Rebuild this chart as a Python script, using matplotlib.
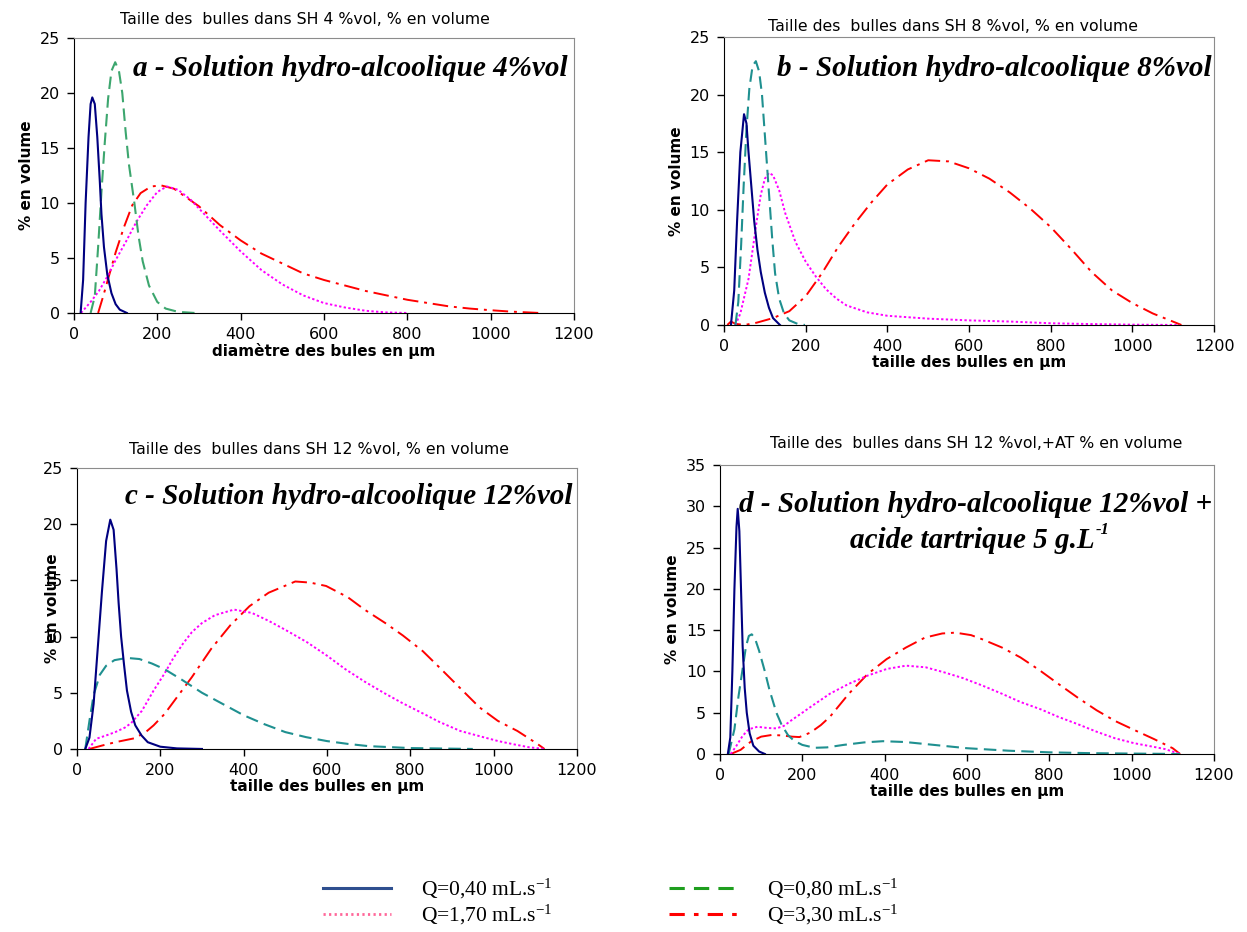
import matplotlib
matplotlib.use("Agg")
import matplotlib.pyplot as plt
from matplotlib.lines import Line2D

plt.rcParams['font.family'] = ['DejaVu Sans']
plt.rcParams['mathtext.fontset'] = 'custom'
plt.rcParams['mathtext.rm'] = 'Liberation Serif'
plt.rcParams['mathtext.it'] = 'Liberation Serif:italic'
plt.rcParams['mathtext.bf'] = 'Liberation Serif:bold'

# ---- data (x in µm, y in % volume) ----
# a - 4 %vol
a_x040 = [16, 22, 28, 35, 40, 44, 50, 56, 62, 66, 72, 80, 90, 100, 110, 127]
a_y040 = [0, 3, 10, 16, 19, 19.6, 19, 16, 12, 9, 6, 3.5, 1.8, 0.8, 0.3, 0]
a_x080 = [40, 50, 58, 66, 74, 82, 90, 99, 108, 116, 124, 132, 145, 155, 165, 180, 200, 220, 250, 290]
a_y080 = [0, 1.5, 6, 11, 15.5, 19.5, 22, 22.8, 22, 20, 16.5, 13.5, 10, 7, 4.7, 2.5, 1, 0.4, 0.1, 0]
a_x170 = [17, 40, 60, 80, 100, 125, 150, 175, 200, 223, 250, 280, 300, 350, 400, 450, 500, 550, 600, 650, 700, 750, 800]
a_y170 = [0, 1, 2, 3.3, 4.8, 6.5, 8.3, 9.8, 11, 11.5, 11.2, 10.3, 9.5, 7.5, 5.6, 3.9, 2.6, 1.6, 0.9, 0.5, 0.2, 0.05, 0]
a_x330 = [58, 70, 85, 100, 120, 140, 160, 185, 209, 240, 270, 300, 350, 400, 450, 500, 550, 600, 650, 700, 750,
          800, 850, 900, 950, 1000, 1050, 1118]
a_y330 = [0, 1.5, 3.5, 5.5, 7.8, 9.8, 10.9, 11.5, 11.6, 11.3, 10.5, 9.7, 8, 6.6, 5.4, 4.5, 3.6, 3, 2.5, 2, 1.6,
          1.2, 0.9, 0.6, 0.4, 0.25, 0.12, 0]

# b - 8 %vol
b_x040 = [17, 25, 32, 40, 49, 55, 60, 67, 74, 82, 90, 100, 110, 120, 137]
b_y040 = [0, 3, 9, 15, 18.3, 17.5, 15, 12, 9, 6.5, 4.6, 2.8, 1.5, 0.6, 0]
b_x080 = [28, 35, 42, 48, 55, 62, 70, 78, 86, 93, 100, 107, 113, 118, 125, 135, 147, 160, 180, 198]
b_y080 = [0, 2, 7, 12, 17, 20.5, 22.5, 22.9, 22, 20, 16.5, 13, 10, 7.5, 4.5, 2.3, 1, 0.4, 0.1, 0]
b_x170 = [28, 40, 50, 60, 70, 80, 90, 100, 110, 120, 135, 150, 175, 200, 225, 250, 275, 300, 350, 400, 500,
          600, 700, 800, 900, 1000, 1115]
b_y170 = [0, 1, 2.5, 4, 6.5, 9, 11.3, 12.7, 13.2, 13, 11.7, 9.7, 7.2, 5.5, 4.2, 3.1, 2.3, 1.7, 1.1, 0.8, 0.55,
          0.4, 0.3, 0.15, 0.08, 0.03, 0]
b_x330 = [8, 17, 28, 50, 80, 120, 160, 200, 240, 280, 320, 360, 400, 450, 500, 550, 600, 650, 700, 750, 800,
          850, 900, 950, 1000, 1050, 1120]
b_y330 = [0, 0.3, 0.1, 0, 0.2, 0.6, 1.2, 2.5, 4.5, 6.8, 8.8, 10.6, 12.2, 13.5, 14.3, 14.2, 13.6, 12.7, 11.5,
          10.1, 8.5, 6.6, 4.6, 3, 1.9, 1, 0]

# c - 12 %vol
c_x040 = [20, 30, 40, 50, 60, 70, 80, 88, 95, 100, 106, 113, 120, 130, 140, 155, 170, 200, 240, 300]
c_y040 = [0, 1, 4, 9, 14, 18.5, 20.4, 19.5, 16, 13, 10, 7.5, 5.2, 3.3, 2.1, 1.2, 0.6, 0.2, 0.05, 0]
c_x080 = [20, 30, 40, 55, 70, 90, 120, 150, 180, 210, 250, 300, 350, 400, 450, 500, 550, 600, 650, 700, 800, 950]
c_y080 = [0, 2.5, 4.8, 6.6, 7.4, 7.9, 8.1, 8, 7.6, 7.1, 6.2, 5, 4, 3, 2.2, 1.5, 1.05, 0.7, 0.45, 0.25, 0.08, 0]
c_x170 = [28, 46, 70, 92, 115, 130, 156, 184, 210, 230, 255, 276, 300, 331, 377, 420, 460, 500, 552, 600, 644,
          690, 736, 780, 828, 870, 920, 970, 1011, 1050, 1085, 1122]
c_y170 = [0, 0.9, 1.2, 1.5, 1.9, 2.3, 3.4, 5.2, 6.7, 8, 9.4, 10.4, 11.2, 11.9, 12.4, 12.1, 11.4, 10.6, 9.5, 8.3,
          7.1, 6, 5, 4.1, 3.2, 2.4, 1.6, 1.1, 0.7, 0.4, 0.15, 0]
c_x330 = [30, 60, 92, 138, 165, 184, 210, 230, 276, 322, 368, 414, 460, 524, 560, 598, 650, 690, 740, 782, 830,
          874, 920, 966, 1010, 1057, 1103, 1122]
c_y330 = [0, 0.3, 0.6, 0.95, 1.5, 2.1, 3.1, 4.1, 6.4, 8.9, 11, 12.7, 13.9, 14.9, 14.8, 14.5, 13.5, 12.4, 11.2,
          10.1, 8.7, 7.1, 5.4, 3.7, 2.5, 1.6, 0.5, 0]

# d - 12 %vol + acide tartrique
d_x040 = [19, 25, 30, 35, 40, 43, 47, 51, 55, 60, 65, 72, 81, 95, 109]
d_y040 = [0, 2, 10, 20, 27.5, 29.7, 27, 20, 13, 8, 5, 2.5, 1, 0.3, 0]
d_x080 = [21, 35, 45, 54, 63, 70, 77, 85, 95, 109, 120, 137, 150, 165, 180, 200, 230, 260, 300, 350, 396, 450,
          500, 550, 600, 650, 700, 800, 900, 1000, 1118]
d_y080 = [0, 3, 7, 10, 13, 14.3, 14.5, 14, 12.5, 10, 7.8, 5, 3.5, 2.3, 1.6, 1.1, 0.75, 0.8, 1.1, 1.4, 1.55, 1.45,
          1.2, 0.95, 0.7, 0.55, 0.4, 0.2, 0.1, 0.05, 0]
d_x170 = [26, 40, 55, 70, 91, 115, 137, 155, 174, 200, 220, 267, 313, 359, 405, 452, 500, 544, 590, 637, 685,
          730, 780, 822, 870, 915, 960, 1007, 1050, 1081, 1118]
d_y170 = [0, 1, 2.2, 3, 3.3, 3.15, 3.1, 3.4, 4.1, 5, 5.7, 7.3, 8.5, 9.5, 10.3, 10.7, 10.5, 9.9, 9.2, 8.3, 7.3,
          6.3, 5.4, 4.5, 3.6, 2.7, 1.9, 1.3, 0.9, 0.6, 0]
d_x330 = [26, 50, 75, 100, 125, 150, 175, 193, 220, 245, 267, 290, 313, 336, 359, 405, 452, 498, 540, 572, 610,
          637, 685, 730, 775, 822, 870, 915, 960, 1007, 1055, 1100, 1118]
d_y330 = [0, 0.5, 1.5, 2.1, 2.3, 2.25, 2.1, 2.05, 2.6, 3.5, 4.5, 5.9, 7.3, 8.5, 9.7, 11.5, 12.9, 14.1, 14.6,
          14.7, 14.4, 13.9, 12.9, 11.7, 10.2, 8.5, 6.8, 5.3, 4, 2.9, 1.8, 0.7, 0]

titles = ["Taille des  bulles dans SH 4 %vol, % en volume",
          "Taille des  bulles dans SH 8 %vol, % en volume",
          "Taille des  bulles dans SH 12 %vol, % en volume",
          "Taille des  bulles dans SH 12 %vol,+AT % en volume"]
xlabels = ["diamètre des bules en µm", "taille des bulles en µm",
           "taille des bulles en µm", "taille des bulles en µm"]
legend_labels = [r"Q=0,40 mL.s$^{-1}$", r"Q=0,80 mL.s$^{-1}$",
                 r"Q=1,70 mL.s$^{-1}$", r"Q=3,30 mL.s$^{-1}$"]

fig = plt.figure(figsize=(12.47, 9.32), dpi=100)

# axes boxes [left, bottom, width, height] in figure fraction
boxes = [[0.0593, 0.6642, 0.401, 0.295],
         [0.5806, 0.6513, 0.393, 0.309],
         [0.0617, 0.1964, 0.401, 0.3015],
         [0.5774, 0.1910, 0.396, 0.310]]
title_x = [0.462, 0.467, 0.484, 0.518]
title_pad = [10, 4, 10, 12]

navy = '#000080'
magenta = '#FF00FF'
red = '#FF0000'
dash_style = (0, (6, 3))
dot_style = (0, (1.2, 1.2))
dashdot_style = (0, (8, 3, 1.5, 3))

panels = [
    (a_x040, a_y040, a_x080, a_y080, a_x170, a_y170, a_x330, a_y330, '#3CA66E', 25),
    (b_x040, b_y040, b_x080, b_y080, b_x170, b_y170, b_x330, b_y330, '#1F9090', 25),
    (c_x040, c_y040, c_x080, c_y080, c_x170, c_y170, c_x330, c_y330, '#1F9090', 25),
    (d_x040, d_y040, d_x080, d_y080, d_x170, d_y170, d_x330, d_y330, '#1F9090', 35),
]

axes = []
for i, (x1, y1, x2, y2, x3, y3, x4, y4, green, ymax) in enumerate(panels):
    ax = fig.add_axes(boxes[i])
    ax.plot(x4, y4, color=red, lw=1.4, linestyle=dashdot_style)
    ax.plot(x3, y3, color=magenta, lw=1.4, linestyle=dot_style)
    ax.plot(x2, y2, color=green, lw=1.5, linestyle=dash_style)
    ax.plot(x1, y1, color=navy, lw=1.5)
    ax.set_xlim(0, 1200)
    ax.set_ylim(0, ymax)
    ax.set_xticks(range(0, 1201, 200))
    ax.set_yticks(range(0, ymax + 1, 5))
    ax.tick_params(labelsize=11.5, direction='out', length=5, width=1, pad=5)
    for s in ['top', 'right']:
        ax.spines[s].set_color('#8c8c8c')
    for s in ['left', 'bottom']:
        ax.spines[s].set_color('black')
    ax.set_xlabel(xlabels[i], fontsize=11, fontweight='bold', labelpad=1)
    ax.set_ylabel("% en volume", fontsize=11, fontweight='bold')
    ax.set_title(titles[i], fontsize=11.3, x=title_x[i], pad=title_pad[i])
    axes.append(ax)

# in the original the y label of panel c runs over its tick labels
axes[2].yaxis.set_label_coords(-0.034, 0.5)

ann = dict(fontsize=21, fontweight='bold', fontstyle='italic', family='Liberation Serif')
axes[0].text(0.988, 0.89, "a - Solution hydro-alcoolique 4%vol", transform=axes[0].transAxes,
             ha='right', va='center', **ann)
axes[1].text(0.996, 0.892, "b - Solution hydro-alcoolique 8%vol", transform=axes[1].transAxes,
             ha='right', va='center', **ann)
axes[2].text(0.992, 0.897, "c - Solution hydro-alcoolique 12%vol", transform=axes[2].transAxes,
             ha='right', va='center', **ann)
axes[3].text(0.996, 0.862, "d - Solution hydro-alcoolique 12%vol +", transform=axes[3].transAxes,
             ha='right', va='center', **ann)
t2 = axes[3].text(0.51, 0.74, "acide tartrique 5 g.L", transform=axes[3].transAxes,
                  ha='center', va='center', **ann)
axes[3].annotate("-1", xy=(1.005, 0.58), xycoords=t2, ha='left', va='bottom',
                 fontsize=12, fontweight='bold', fontstyle='italic', family='Liberation Serif')

# legend at the bottom
handles = [Line2D([], [], color='#2F4F8F', lw=2.2),
           Line2D([], [], color='#FF6699', lw=2, linestyle=(0, (0.8, 1.2))),
           Line2D([], [], color='#1E9E1E', lw=2.2, linestyle=(0, (5, 3))),
           Line2D([], [], color=red, lw=2.2, linestyle=(0, (5, 3, 1.5, 3)))]
labels = [legend_labels[0], legend_labels[2], legend_labels[1], legend_labels[3]]
fig.legend(handles, labels, loc='center', bbox_to_anchor=(0.49, 0.032), ncol=2, frameon=False,
           prop={'family': 'Liberation Serif', 'size': 15.5}, handlelength=3.15, handletextpad=1.4,
           columnspacing=5.4, labelspacing=0.1)

fig.savefig("out.png", dpi=100)
